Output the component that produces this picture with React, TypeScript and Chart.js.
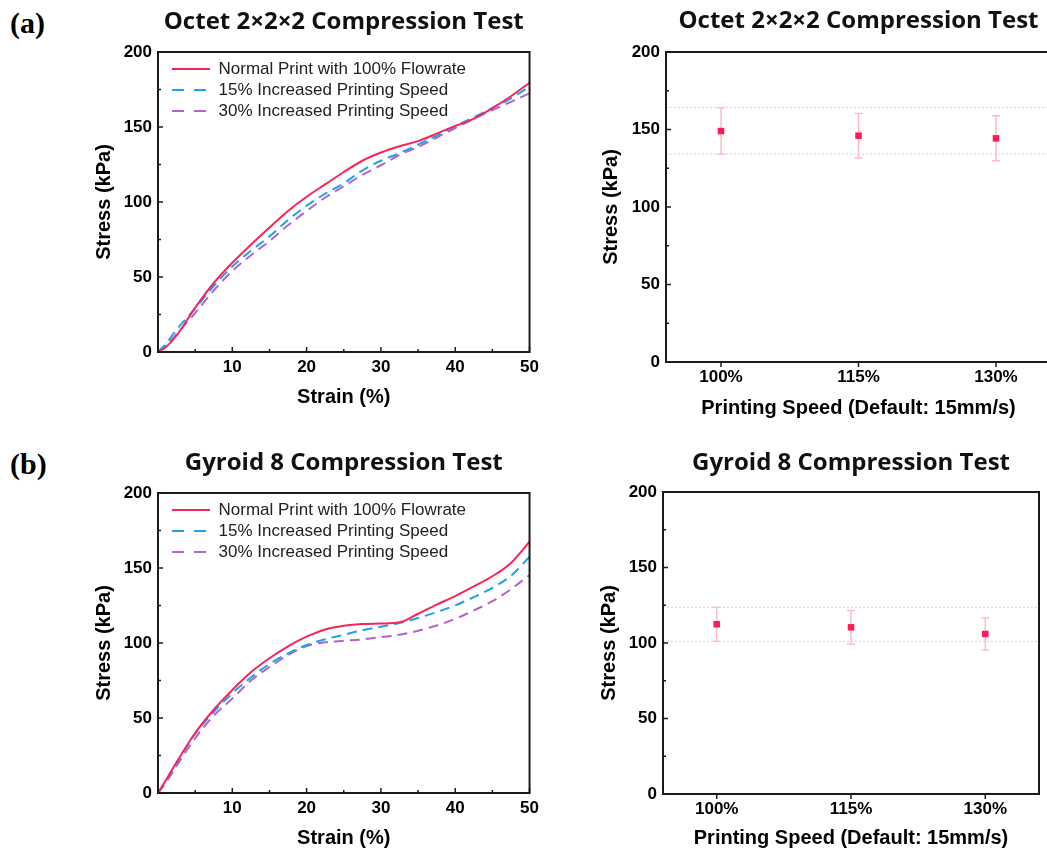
import React, { useEffect, useRef } from 'react';
import { Chart, registerables } from 'chart.js';

Chart.register(...registerables);

// ---------------- data ----------------
const strainPercent = [0, 1, 2.5, 5, 7.5, 10, 12.5, 15, 17.5, 20, 22.5, 25, 27.5, 30, 32.5, 35, 37.5, 40, 42.5, 45, 47.5, 50];
const seriesNames = ['Normal Print with 100% Flowrate', '15% Increased Printing Speed', '30% Increased Printing Speed'];

const octetNormal = [0, 3, 11, 29.5, 46, 59.5, 71.5, 83, 94, 103.5, 111.7, 120, 127.5, 133, 137.2, 140.6, 145.6, 150.7, 155.6, 162.6, 170.5, 179.5];
const octet15 = [0, 5, 15, 29, 44, 57, 67.5, 77, 88, 97.5, 105.5, 112.5, 121, 127.5, 132.6, 138.2, 144.3, 150.5, 156.5, 162.7, 169, 177];
const octet30 = [0, 4, 12, 26, 41, 54, 64.5, 74, 84.5, 94, 103, 110.5, 118, 124.5, 131.4, 136.7, 143, 149.3, 155.5, 161.3, 166.7, 172.5];

const gyroidNormal = [0, 8, 20.5, 40, 55.5, 68.7, 80.5, 89.8, 97.8, 104.2, 109, 111.5, 112.7, 113, 113.8, 119.5, 125.6, 131.3, 137.7, 144.5, 153.4, 167.5];
const gyroid15 = [0, 7.5, 20, 39.5, 54, 66.5, 77, 86, 93, 98.7, 102.5, 105.5, 108.5, 110.9, 113.3, 116.7, 120.6, 125.1, 130.6, 136.8, 144.8, 157.5];
const gyroid30 = [0, 6.5, 18, 36.5, 51.5, 63, 75, 84, 92, 98, 100.5, 101.5, 102.4, 103.9, 105.5, 108.2, 111.7, 116.1, 121.7, 127.9, 135.9, 145.3];

const speedPercent = [100, 115, 130];
const speedAxisRange = [94, 136];
const octetMean = [149, 146, 144.3];
const octetSd = [15, 14.4, 14.5];
const octetRefLines = [134.2, 164.3];
const gyroidMean = [112.4, 110.4, 106];
const gyroidSd = [11.2, 11.1, 10.6];
const gyroidRefLines = [101.1, 123.6];

const strainRange = [0, 50];
const stressRange = [0, 200];

// ---------------- styles ----------------
const RED = '#F8245A';
const BLUE = '#1CA3E6';
const PURPLE = '#B164CB';
const MARKER = '#FF1A55';
const ERR = 'rgba(255, 130, 165, 0.55)';
const AXIS = '#1b1b1b';
const SANS = '"Liberation Sans", Arial, Helvetica, sans-serif';
const TITLE_FONT = '"Open Sans", "Liberation Sans", sans-serif';

const frameTicks = {
  id: 'frameTicks',
  afterDatasetsDraw(chart: any, _a: any, opts: any) {
    const { ctx, chartArea: a, scales } = chart;
    ctx.save();
    ctx.strokeStyle = AXIS;
    ctx.lineWidth = 2;
    ctx.setLineDash([]);
    ctx.strokeRect(a.left, a.top, a.right - a.left, a.bottom - a.top);
    ctx.lineWidth = 1.5;
    const ys = scales.y;
    ys.ticks.forEach((t: any) => {
      const py = ys.getPixelForValue(t.value);
      const len = t.label ? 5 : 3;
      ctx.beginPath();
      ctx.moveTo(a.left, py);
      ctx.lineTo(a.left + len, py);
      ctx.stroke();
    });
    const xs = scales.x;
    const dir = opts && opts.xOut ? 1 : -1;
    xs.ticks.forEach((t: any) => {
      const px = xs.getPixelForValue(t.value);
      const len = t.label ? 5 : 3;
      ctx.beginPath();
      ctx.moveTo(px, a.bottom);
      ctx.lineTo(px, a.bottom + dir * len);
      ctx.stroke();
    });
    ctx.restore();
  },
};

const errorBars = {
  id: 'errorBars',
  beforeDatasetsDraw(chart: any) {
    const { ctx, scales } = chart;
    const xs = scales.x;
    const ys = scales.y;
    chart.data.datasets.forEach((ds: any) => {
      if (!ds.errorBars) return;
      ds.data.forEach((p: any, i: number) => {
        const e = ds.errorBars[i];
        const px = xs.getPixelForValue(p.x);
        const top = ys.getPixelForValue(p.y + e);
        const bot = ys.getPixelForValue(p.y - e);
        ctx.save();
        ctx.strokeStyle = ERR;
        ctx.lineWidth = 1.5;
        ctx.beginPath();
        ctx.moveTo(px, top);
        ctx.lineTo(px, bot);
        ctx.moveTo(px - 4, top);
        ctx.lineTo(px + 4, top);
        ctx.moveTo(px - 4, bot);
        ctx.lineTo(px + 4, bot);
        ctx.stroke();
        ctx.restore();
      });
    });
  },
};

// The chartArea legend box gets its top reset to 0 by its own update; put it back inside the plot.
const legendShift = {
  id: 'legendShift',
  afterLayout(chart: any, _a: any, opts: any) {
    const l = chart.legend;
    if (l && opts && typeof opts.dx === 'number') {
      const a = chart.chartArea;
      const h = l.height;
      l.left = a.left + opts.dx;
      l.top = a.top + opts.dy;
      l.bottom = l.top + h;
    }
  },
};

type Geo = {
  x: number; y: number; w: number; h: number;
  yW: number; xH: number; pr: number;
  tTop: number; tBot: number; yTitlePad: number; xTitlePad: number;
};

function stressAxis(geo: Geo) {
  return {
    type: 'linear',
    min: stressRange[0],
    max: stressRange[1],
    grid: { display: false, drawTicks: false },
    border: { display: false },
    ticks: {
      stepSize: 25,
      autoSkip: false,
      padding: 6,
      color: '#000',
      font: { family: SANS, size: 17, weight: 'bold' },
      callback: (v: number) => (v % 50 === 0 ? String(v) : ''),
    },
    title: {
      display: true,
      text: 'Stress (kPa)',
      color: '#000',
      font: { family: SANS, size: 20, weight: 'bold' },
      padding: { top: geo.yTitlePad, bottom: 0 },
    },
    afterFit: (s: any) => { s.width = geo.yW; },
  };
}

function titleOpts(text: string, geo: Geo) {
  return {
    display: true,
    text,
    fullSize: false,
    color: '#111',
    font: { family: TITLE_FONT, size: 24, weight: 'bold' },
    padding: { top: geo.tTop, bottom: geo.tBot },
  };
}

function curveConfig(title: string, normal: number[], p15: number[], p30: number[], geo: Geo) {
  const pts = (vals: number[]) => strainPercent.map((x, i) => ({ x, y: vals[i] }));
  const common = { pointRadius: 0, borderWidth: 2, cubicInterpolationMode: 'monotone', fill: false };
  return {
    type: 'line',
    data: {
      datasets: [
        { ...common, label: seriesNames[0], data: pts(normal), borderColor: RED, backgroundColor: RED },
        { ...common, label: seriesNames[1], data: pts(p15), borderColor: BLUE, backgroundColor: BLUE, borderDash: [10, 6] },
        { ...common, label: seriesNames[2], data: pts(p30), borderColor: PURPLE, backgroundColor: PURPLE, borderDash: [10, 6] },
      ],
    },
    options: {
      animation: false,
      responsive: false,
      devicePixelRatio: 1,
      layout: { padding: { left: 0, top: 0, right: geo.pr, bottom: 0 } },
      plugins: {
        title: titleOpts(title, geo),
        tooltip: { enabled: false },
        legend: {
          display: true,
          position: 'chartArea',
          align: 'start',
          labels: {
            usePointStyle: true,
            pointStyle: 'line',
            pointStyleWidth: 38,
            padding: 4,
            color: '#222',
            font: { family: SANS, size: 17 },
            generateLabels: (chart: any) =>
              chart.data.datasets.map((ds: any, i: number) => ({
                text: ds.label,
                datasetIndex: i,
                fillStyle: ds.borderColor,
                strokeStyle: ds.borderColor,
                lineWidth: 2,
                lineDash: ds.borderDash ? [12, 10] : [],
                pointStyle: 'line',
                hidden: false,
                fontColor: '#222',
              })),
          },
        },
        legendShift: { dx: 10, dy: 4.5 },
        frameTicks: { xOut: false },
      },
      scales: {
        x: {
          type: 'linear',
          min: strainRange[0],
          max: strainRange[1],
          grid: { display: false, drawTicks: false },
          border: { display: false },
          ticks: {
            stepSize: 5,
            autoSkip: false,
            maxRotation: 0,
            padding: 5,
            color: '#000',
            font: { family: SANS, size: 17, weight: 'bold' },
            callback: (v: number) => (v % 10 === 0 && v !== 0 ? String(v) : ''),
          },
          title: {
            display: true,
            text: 'Strain (%)',
            color: '#000',
            font: { family: SANS, size: 20, weight: 'bold' },
            padding: { top: 0, bottom: geo.xTitlePad },
          },
          afterFit: (s: any) => { s.height = geo.xH; },
        },
        y: stressAxis(geo),
      },
    },
    plugins: [frameTicks, legendShift],
  };
}

function speedConfig(title: string, mean: number[], sd: number[], refs: number[], geo: Geo) {
  return {
    type: 'scatter',
    data: {
      datasets: [
        ...refs.map((v) => ({
          label: 'ref',
          data: [{ x: speedAxisRange[0], y: v }, { x: speedAxisRange[1], y: v }],
          showLine: true,
          borderColor: '#d4d4d4',
          borderWidth: 1,
          borderDash: [2, 2],
          pointRadius: 0,
        })),
        {
          label: 'Stress',
          data: speedPercent.map((x, i) => ({ x, y: mean[i] })),
          errorBars: sd,
          pointStyle: 'rect',
          pointRadius: 4.6,
          backgroundColor: MARKER,
          borderColor: MARKER,
          borderWidth: 0,
        },
      ],
    },
    options: {
      animation: false,
      responsive: false,
      devicePixelRatio: 1,
      layout: { padding: { left: 0, top: 0, right: geo.pr, bottom: 0 } },
      plugins: {
        title: titleOpts(title, geo),
        tooltip: { enabled: false },
        legend: { display: false },
        frameTicks: { xOut: true },
      },
      scales: {
        x: {
          type: 'linear',
          min: speedAxisRange[0],
          max: speedAxisRange[1],
          grid: { display: false, drawTicks: false },
          border: { display: false },
          afterBuildTicks: (axis: any) => { axis.ticks = speedPercent.map((v) => ({ value: v })); },
          ticks: {
            autoSkip: false,
            maxRotation: 0,
            padding: 5,
            color: '#000',
            font: { family: SANS, size: 17, weight: 'bold' },
            callback: (v: number) => `${v}%`,
          },
          title: {
            display: true,
            text: 'Printing Speed (Default: 15mm/s)',
            color: '#000',
            font: { family: SANS, size: 20, weight: 'bold' },
            padding: { top: 0, bottom: geo.xTitlePad },
          },
          afterFit: (s: any) => { s.height = geo.xH; },
        },
        y: stressAxis(geo),
      },
    },
    plugins: [frameTicks, errorBars],
  };
}

const geoTL: Geo = { x: 80, y: 0, w: 464, h: 412, yW: 78, xH: 60, pr: 12, tTop: 7.6, tBot: 15.6, yTitlePad: 12, xTitlePad: 3 };
const geoTR: Geo = { x: 587, y: 0, w: 474, h: 423, yW: 79, xH: 61, pr: 10, tTop: 6.6, tBot: 16.6, yTitlePad: 12, xTitlePad: 3 };
const geoBL: Geo = { x: 80, y: 430, w: 464, h: 420, yW: 78, xH: 57, pr: 12, tTop: 18.6, tBot: 15.6, yTitlePad: 12, xTitlePad: 0 };
const geoBR: Geo = { x: 585, y: 430, w: 462, h: 420, yW: 78, xH: 56, pr: 8, tTop: 18.6, tBot: 14.6, yTitlePad: 12, xTitlePad: 0 };

function ChartBox({ geo, build }: { geo: Geo; build: () => any }) {
  const ref = useRef<HTMLCanvasElement>(null);
  useEffect(() => {
    const chart = new Chart(ref.current as HTMLCanvasElement, build());
    return () => chart.destroy();
  }, []);
  return (
    <canvas
      ref={ref}
      width={geo.w}
      height={geo.h}
      style={{ position: 'absolute', left: geo.x, top: geo.y, width: geo.w, height: geo.h }}
    />
  );
}

const panelLabel: React.CSSProperties = {
  position: 'absolute',
  left: 10,
  fontFamily: '"Liberation Serif", "Times New Roman", serif',
  fontWeight: 'bold',
  fontSize: 30,
  lineHeight: '30px',
  color: '#000',
};

export default function App() {
  return (
    <div style={{ position: 'fixed', left: 0, top: 0, width: 1047, height: 850, overflow: 'hidden', background: '#fff' }}>
      <div style={{ ...panelLabel, top: 8 }}>(a)</div>
      <div style={{ ...panelLabel, top: 449 }}>(b)</div>
      <ChartBox geo={geoTL} build={() => curveConfig('Octet 2×2×2 Compression Test', octetNormal, octet15, octet30, geoTL)} />
      <ChartBox geo={geoTR} build={() => speedConfig('Octet 2×2×2 Compression Test', octetMean, octetSd, octetRefLines, geoTR)} />
      <ChartBox geo={geoBL} build={() => curveConfig('Gyroid 8 Compression Test', gyroidNormal, gyroid15, gyroid30, geoBL)} />
      <ChartBox geo={geoBR} build={() => speedConfig('Gyroid 8 Compression Test', gyroidMean, gyroidSd, gyroidRefLines, geoBR)} />
    </div>
  );
}
